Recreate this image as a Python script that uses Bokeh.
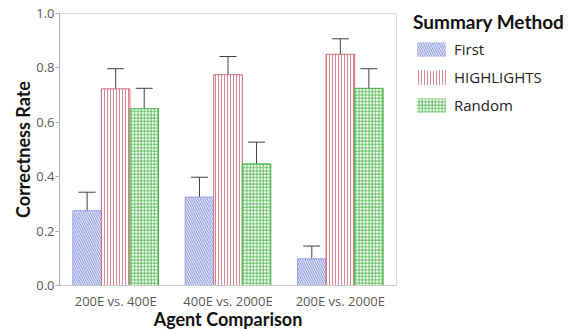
from bokeh.plotting import figure
from bokeh.models import ColumnDataSource, FactorRange, Whisker, Legend, LegendItem, NumeralTickFormatter, TeeHead
from bokeh.transform import dodge
from bokeh.embed import file_html
from bokeh.resources import INLINE

comparisons = ["200E vs. 400E", "400E vs. 2000E", "200E vs. 2000E"]
methods = ["First", "HIGHLIGHTS", "Random"]
first_vals = [0.275, 0.325, 0.098]
first_lo = [0.202, 0.249, 0.049]
first_hi = [0.343, 0.398, 0.145]
high_vals = [0.723, 0.775, 0.850]
high_lo = [0.653, 0.707, 0.793]
high_hi = [0.797, 0.842, 0.907]
rand_vals = [0.650, 0.447, 0.725]
rand_lo = [0.572, 0.370, 0.653]
rand_hi = [0.725, 0.527, 0.797]
y_ticks = [0.0, 0.2, 0.4, 0.6, 0.8, 1.0]

FONT = "Open Sans"
TITLE_FONT = "Lato"

p = figure(x_range=FactorRange(*comparisons, range_padding=0.0), y_range=(0, 1.0),
           frame_width=337, frame_height=272, output_backend="svg", toolbar_location=None,
           min_border_left=59, min_border_right=172, min_border_top=13, min_border_bottom=45)
p.xgrid.grid_line_color = None
p.ygrid.grid_line_color = None
p.outline_line_color = "#dcdcdc"
p.background_fill_color = "white"

styles = [
    dict(name="First", vals=first_vals, lo=first_lo, hi=first_hi, off=-0.254,
         line="#95a3e4", hatch_color="#5f72d2", pattern="\\", scale=4.5),
    dict(name="HIGHLIGHTS", vals=high_vals, lo=high_lo, hi=high_hi, off=0.0,
         line="#d06a7a", hatch_color="#d0707f", pattern="|", scale=3.0),
    dict(name="Random", vals=rand_vals, lo=rand_lo, hi=rand_hi, off=0.254,
         line="#3cb43c", hatch_color="#46b446", pattern="+", scale=3.3),
]

items = []
for s in styles:
    src = ColumnDataSource(dict(x=comparisons, top=s["vals"], lo=s["lo"], hi=s["hi"]))
    p.vbar(x=dodge("x", s["off"], range=p.x_range), top="top", width=0.254, source=src,
           fill_color="white", line_color=s["line"], line_width=1,
           hatch_pattern=s["pattern"], hatch_color=s["hatch_color"], hatch_scale=s["scale"],
           hatch_weight=1, hatch_alpha=0.85)
    w = Whisker(base=dodge("x", s["off"], range=p.x_range), upper="hi", lower="lo", source=src,
                line_color="#404040", line_width=1,
                upper_head=TeeHead(size=17, line_color="#404040", line_width=1),
                lower_head=TeeHead(size=17, line_color="#404040", line_width=1))
    p.add_layout(w)
    # legend-only swatch (no border): a zero-height bar that draws nothing in the plot
    swatch_src = ColumnDataSource(dict(x=comparisons[:1], top=[0.0]))
    lr = p.vbar(x="x", top="top", bottom=0.0, width=0.254, source=swatch_src,
                fill_color="white", fill_alpha=1.0, line_color=None,
                hatch_pattern=s["pattern"], hatch_color=s["hatch_color"], hatch_scale=s["scale"],
                hatch_weight=1, hatch_alpha=0.85)
    items.append(LegendItem(label=s["name"], renderers=[lr]))

legend = Legend(items=items, title="Summary Method", location=(14, 167),
                title_text_font=TITLE_FONT, title_text_font_style="bold", title_text_font_size="19px",
                title_text_color="#111111", title_standoff=6,
                label_text_font=FONT, label_text_font_size="15px", label_text_color="#222222",
                glyph_width=36, glyph_height=18, label_standoff=5, spacing=8,
                padding=3, margin=0, border_line_alpha=0, background_fill_alpha=0)
p.add_layout(legend, "right")

p.yaxis.ticker = y_ticks
p.yaxis.formatter = NumeralTickFormatter(format="0.0")
p.yaxis.axis_label = "Correctness Rate"
p.xaxis.axis_label = "Agent Comparison"
for ax in (p.xaxis, p.yaxis):
    ax.axis_label_text_font = TITLE_FONT
    ax.axis_label_text_font_style = "bold"
    ax.axis_label_text_font_size = "18px"
    ax.axis_label_text_color = "#111111"
    ax.major_label_text_font = FONT
    ax.major_label_text_font_size = "13px"
    ax.major_label_text_color = "#595959"
    ax.minor_tick_line_color = None
p.yaxis.axis_line_color = "#b0b0b0"
p.yaxis.major_tick_line_color = "#b0b0b0"
p.yaxis.major_tick_in = 0
p.yaxis.major_tick_out = 4
p.yaxis.major_label_standoff = 1
p.yaxis.axis_label_standoff = -1
p.xaxis.axis_line_color = "#c8c8c8"
p.xaxis.major_tick_line_color = None
p.xaxis.major_label_standoff = 0
p.xaxis.axis_label_standoff = -5

open("out.html", "w").write(file_html(p, INLINE))
